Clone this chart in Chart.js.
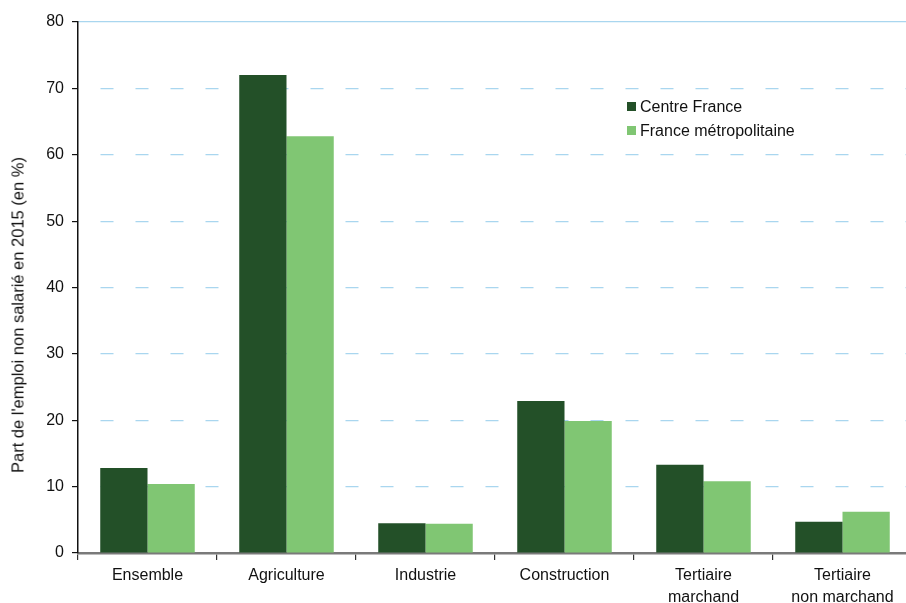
<!DOCTYPE html>
<html>
<head>
<meta charset="utf-8">
<script src="https://cdn.jsdelivr.net/npm/chart.js@4.4.1/dist/chart.umd.min.js"></script>
<style>
  html, body { margin: 0; padding: 0; background: #fff; overflow: hidden; }
  #wrap { position: relative; width: 912px; height: 603px; }
  #legend { position: absolute; left: 627px; top: 96px; font: 16px "Liberation Sans", Arial, sans-serif; color: #111; }
  #legend div { height: 24px; line-height: 22px; white-space: nowrap; }
  #legend span { display: inline-block; width: 9px; height: 9px; margin-right: 4px; vertical-align: 1px; }
  #ytitle { position: absolute; left: 18px; top: 315px; transform: translate(-50%, -50%) rotate(-90deg);
            font: 16.5px "Liberation Sans", Arial, sans-serif; color: #111; white-space: nowrap; }
</style>
</head>
<body>
<div id="wrap">
  <canvas id="chart" width="912" height="603"></canvas>
  <div id="legend"></div>
  <div id="ytitle"></div>
</div>
<script>
// Categories and values (part de l'emploi non salarié, %)
const categories = ["Ensemble", "Agriculture", "Industrie", "Construction", ["Tertiaire", "marchand"], ["Tertiaire", "non marchand"]];
const centreFrance = [12.8, 72.0, 4.5, 22.9, 13.3, 4.7];
const franceMetro = [10.4, 62.8, 4.4, 19.9, 10.8, 6.2];
const seriesNames = ["Centre France", "France métropolitaine"];
const seriesColors = ["#235028", "#80c673"];
const yTicks = [0, 10, 20, 30, 40, 50, 60, 70, 80];
const yTitle = "Part de l'emploi non salarié en 2015 (en %)";

const FONT = "'Liberation Sans', Arial, sans-serif";

//build legend + axis title in html
const legend = document.getElementById("legend");
seriesNames.forEach((name, i) => {
  legend.innerHTML += `<div><span style="background:${seriesColors[i]}"></span>${name}</div>`;
});
document.getElementById("ytitle").textContent = yTitle;

const ctx = document.getElementById("chart");
new Chart(ctx, {
  type: "bar",
  data: {
    labels: categories,
    datasets: [
      { label: seriesNames[0], data: centreFrance, backgroundColor: seriesColors[0] },
      { label: seriesNames[1], data: franceMetro, backgroundColor: seriesColors[1] },
    ],
  },
  options: {
    responsive: false,
    animation: false,
    layout: { padding: { top: 22, right: 0, left: 0, bottom: 0 } },
    datasets: { bar: { categoryPercentage: 0.68, barPercentage: 1.0 } },
    plugins: { legend: { display: false }, tooltip: { enabled: false } },
    scales: {
      x: {
        grid: { drawOnChartArea: false, drawTicks: true, tickLength: 7, color: "#333", lineWidth: 1.2 },
        border: { color: "#7a7a7a", width: 2.5 },
        ticks: { color: "#111", font: { family: FONT, size: 16, lineHeight: 1.4 }, padding: 4, maxRotation: 0, autoSkip: false },
        afterFit: (axis) => { axis.height = 50; },
      },
      y: {
        min: 0,
        max: 80,
        afterBuildTicks: (axis) => { axis.ticks = yTicks.map(v => ({ value: v })); },
        grid: {
          color: (c) => (c.tick && c.tick.value === 0 ? "rgba(0,0,0,0)" : "#a9d6ef"),
          lineWidth: 1.2,
          tickColor: "#111",
          tickLength: 6,
        },
        border: {
          color: "#111",
          width: 1.5,
          dash: (c) => (c.tick && c.tick.value === 80 ? [] : [13, 22]),
          dashOffset: 13,
        },
        ticks: { color: "#111", font: { family: FONT, size: 16 }, padding: 8 },
        afterFit: (axis) => { axis.width = 78; },
      },
    },
  },
});
</script>
</body>
</html>
